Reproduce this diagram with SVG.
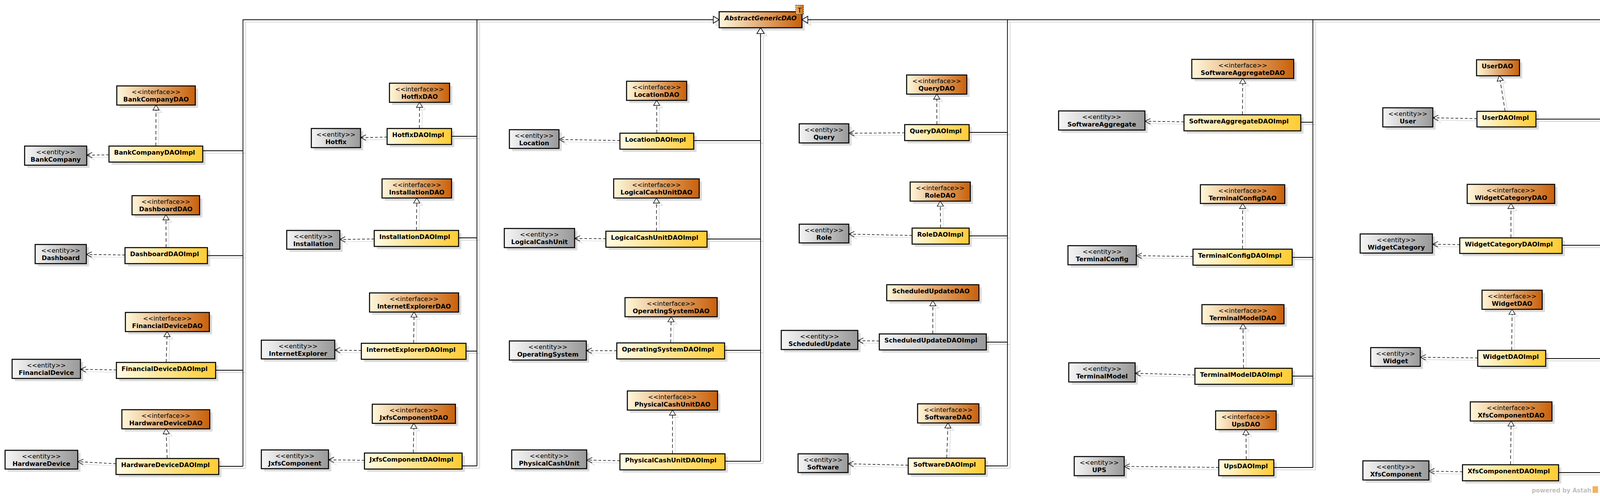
<svg xmlns="http://www.w3.org/2000/svg" xmlns:xlink="http://www.w3.org/1999/xlink" width="4194" height="1270" viewBox="0 0 4194 1270">
<style>
text{font-family:"DejaVu Sans","Liberation Sans",sans-serif;font-size:16px;fill:#000}
.c{text-anchor:middle}
.n{font-weight:bold}
.shd{fill:#dcdcdc}
.b{stroke:#000;stroke-width:2.6}
.gi{fill:url(#gI)}
.gm{fill:url(#gM)}
.ge{fill:url(#gE)}
.gn{fill:none;stroke:var(--c,#000);stroke-width:1.8}
.rl{fill:none;stroke:var(--c,#000);stroke-width:1.4;stroke-dasharray:var(--rd,9 6);marker-end:var(--rm,url(#tri))}
.dp{fill:none;stroke:var(--c,#000);stroke-width:1.4;stroke-dasharray:var(--dd,7 5);marker-end:var(--dm,url(#arr))}
.gt{fill:#fff;stroke:var(--c,#000);stroke-width:1.6}
</style>
<defs>
<linearGradient id="gI" x1="0" y1="0" x2="1" y2="0"><stop offset="0" stop-color="#fff8dc"/><stop offset="1" stop-color="#c8600a"/></linearGradient>
<linearGradient id="gM" x1="0" y1="0" x2="1" y2="0"><stop offset="0" stop-color="#fffbe6"/><stop offset="1" stop-color="#ffcc33"/></linearGradient>
<linearGradient id="gE" x1="0" y1="0" x2="1" y2="0"><stop offset="0" stop-color="#f6f6f6"/><stop offset="1" stop-color="#999"/></linearGradient>
<linearGradient id="gT" x1="0" y1="0" x2="1" y2="0"><stop offset="0" stop-color="#e9b878"/><stop offset="1" stop-color="#c86a14"/></linearGradient>
<marker id="tri" markerUnits="userSpaceOnUse" viewBox="-16 -10 18 20" refX="0" refY="0" markerWidth="18" markerHeight="20" orient="auto" overflow="visible"><path d="M0,0 L-13,-8 L-13,8 Z" fill="#fff" stroke="#000" stroke-width="1.4"/></marker>
<marker id="triS" markerUnits="userSpaceOnUse" viewBox="-16 -10 18 20" refX="0" refY="0" markerWidth="18" markerHeight="20" orient="auto" overflow="visible"><path d="M0,0 L-13,-8 L-13,8 Z" fill="#fff" stroke="#d6d6d6" stroke-width="1.4"/></marker>
<marker id="arr" markerUnits="userSpaceOnUse" viewBox="-16 -10 18 20" refX="0" refY="0" markerWidth="18" markerHeight="20" orient="auto" overflow="visible"><path d="M-14,-7 L0,0 L-14,7" fill="none" stroke="#000" stroke-width="1.4"/></marker>
<marker id="arrS" markerUnits="userSpaceOnUse" viewBox="-16 -10 18 20" refX="0" refY="0" markerWidth="18" markerHeight="20" orient="auto" overflow="visible"><path d="M-14,-7 L0,0 L-14,7" fill="none" stroke="#d6d6d6" stroke-width="1.4"/></marker>
</defs>

<g id="connector-shadows" transform="translate(7,6)" style="--c:#d6d6d6;--rd:none;--dd:none;--rm:url(#triS);--dm:url(#arrS)"><use href="#conn"/></g>

<!-- AbstractGenericDAO -->
<g id="AbstractGenericDAO">
<rect class="shd" x="1848" y="37" width="212" height="41"/>
<rect class="b gi" x="1841" y="30" width="212" height="41"/>
<text class="c n" x="1947" y="52" font-style="italic">AbstractGenericDAO</text>
<rect x="2037" y="13" width="20" height="24" fill="url(#gT)" stroke="#000" stroke-width="1" stroke-dasharray="3 2"/>
<text class="c" x="2047" y="31.5">T</text>
</g>

<!-- Interfaces -->
<g id="BankCompanyDAO" transform="translate(299,220)"><rect class="shd" x="7" y="7" width="201" height="49"/><rect class="b gi" width="201" height="49"/><text class="c" x="100.5" y="21">&lt;&lt;interface&gt;&gt;</text><text class="c n" x="100.5" y="40">BankCompanyDAO</text></g>
<g id="DashboardDAO" transform="translate(338,501)"><rect class="shd" x="7" y="7" width="173" height="49"/><rect class="b gi" width="173" height="49"/><text class="c" x="86.5" y="21">&lt;&lt;interface&gt;&gt;</text><text class="c n" x="86.5" y="40">DashboardDAO</text></g>
<g id="FinancialDeviceDAO" transform="translate(321,800)"><rect class="shd" x="7" y="7" width="215" height="49"/><rect class="b gi" width="215" height="49"/><text class="c" x="107.5" y="21">&lt;&lt;interface&gt;&gt;</text><text class="c n" x="107.5" y="40">FinancialDeviceDAO</text></g>
<g id="HardwareDeviceDAO" transform="translate(312,1049)"><rect class="shd" x="7" y="7" width="225" height="49"/><rect class="b gi" width="225" height="49"/><text class="c" x="112.5" y="21">&lt;&lt;interface&gt;&gt;</text><text class="c n" x="112.5" y="40">HardwareDeviceDAO</text></g>
<g id="HotfixDAO" transform="translate(997,213)"><rect class="shd" x="7" y="7" width="154" height="49"/><rect class="b gi" width="154" height="49"/><text class="c" x="77" y="21">&lt;&lt;interface&gt;&gt;</text><text class="c n" x="77" y="40">HotfixDAO</text></g>
<g id="InstallationDAO" transform="translate(978,458)"><rect class="shd" x="7" y="7" width="178" height="49"/><rect class="b gi" width="178" height="49"/><text class="c" x="89" y="21">&lt;&lt;interface&gt;&gt;</text><text class="c n" x="89" y="40">InstallationDAO</text></g>
<g id="InternetExplorerDAO" transform="translate(946,750)"><rect class="shd" x="7" y="7" width="228" height="49"/><rect class="b gi" width="228" height="49"/><text class="c" x="114" y="21">&lt;&lt;interface&gt;&gt;</text><text class="c n" x="114" y="40">InternetExplorerDAO</text></g>
<g id="JxfsComponentDAO" transform="translate(953,1035)"><rect class="shd" x="7" y="7" width="213" height="49"/><rect class="b gi" width="213" height="49"/><text class="c" x="106.5" y="21">&lt;&lt;interface&gt;&gt;</text><text class="c n" x="106.5" y="40">JxfsComponentDAO</text></g>
<g id="LocationDAO" transform="translate(1604,208)"><rect class="shd" x="7" y="7" width="154" height="49"/><rect class="b gi" width="154" height="49"/><text class="c" x="77" y="21">&lt;&lt;interface&gt;&gt;</text><text class="c n" x="77" y="40">LocationDAO</text></g>
<g id="LogicalCashUnitDAO" transform="translate(1571,458)"><rect class="shd" x="7" y="7" width="219" height="49"/><rect class="b gi" width="219" height="49"/><text class="c" x="109.5" y="21">&lt;&lt;interface&gt;&gt;</text><text class="c n" x="109.5" y="40">LogicalCashUnitDAO</text></g>
<g id="OperatingSystemDAO" transform="translate(1600,762)"><rect class="shd" x="7" y="7" width="236" height="49"/><rect class="b gi" width="236" height="49"/><text class="c" x="118" y="21">&lt;&lt;interface&gt;&gt;</text><text class="c n" x="118" y="40">OperatingSystemDAO</text></g>
<g id="PhysicalCashUnitDAO" transform="translate(1606,1001)"><rect class="shd" x="7" y="7" width="231" height="49"/><rect class="b gi" width="231" height="49"/><text class="c" x="115.5" y="21">&lt;&lt;interface&gt;&gt;</text><text class="c n" x="115.5" y="40">PhysicalCashUnitDAO</text></g>
<g id="QueryDAO" transform="translate(2321,192)"><rect class="shd" x="7" y="7" width="154" height="49"/><rect class="b gi" width="154" height="49"/><text class="c" x="77" y="21">&lt;&lt;interface&gt;&gt;</text><text class="c n" x="77" y="40">QueryDAO</text></g>
<g id="RoleDAO" transform="translate(2330,466)"><rect class="shd" x="7" y="7" width="154" height="49"/><rect class="b gi" width="154" height="49"/><text class="c" x="77" y="21">&lt;&lt;interface&gt;&gt;</text><text class="c n" x="77" y="40">RoleDAO</text></g>
<g id="ScheduledUpdateDAO" transform="translate(2270,729)"><rect class="shd" x="7" y="7" width="236" height="41"/><rect class="b gi" width="236" height="41"/><text class="n" x="14" y="22">ScheduledUpdateDAO</text></g>
<g id="SoftwareDAO" transform="translate(2349,1034)"><rect class="shd" x="7" y="7" width="157" height="49"/><rect class="b gi" width="157" height="49"/><text class="c" x="78.5" y="21">&lt;&lt;interface&gt;&gt;</text><text class="c n" x="78.5" y="40">SoftwareDAO</text></g>
<g id="SoftwareAggregateDAO" transform="translate(3051,152)"><rect class="shd" x="7" y="7" width="261" height="49"/><rect class="b gi" width="261" height="49"/><text class="c" x="130.5" y="21">&lt;&lt;interface&gt;&gt;</text><text class="c n" x="130.5" y="40">SoftwareAggregateDAO</text></g>
<g id="TerminalConfigDAO" transform="translate(3073,473)"><rect class="shd" x="7" y="7" width="216" height="48"/><rect class="b gi" width="216" height="48"/><text class="c" x="108" y="21">&lt;&lt;interface&gt;&gt;</text><text class="c n" x="108" y="40">TerminalConfigDAO</text></g>
<g id="TerminalModelDAO" transform="translate(3077,780)"><rect class="shd" x="7" y="7" width="210" height="49"/><rect class="b gi" width="210" height="49"/><text class="c" x="105" y="21">&lt;&lt;interface&gt;&gt;</text><text class="c n" x="105" y="40">TerminalModelDAO</text></g>
<g id="UpsDAO" transform="translate(3112,1052)"><rect class="shd" x="7" y="7" width="155" height="48"/><rect class="b gi" width="155" height="48"/><text class="c" x="77.5" y="21">&lt;&lt;interface&gt;&gt;</text><text class="c n" x="77.5" y="40">UpsDAO</text></g>
<g id="UserDAO" transform="translate(3780,153)"><rect class="shd" x="7" y="7" width="110" height="41"/><rect class="b gi" width="110" height="41"/><text class="n" x="13" y="22">UserDAO</text></g>
<g id="WidgetCategoryDAO" transform="translate(3756,472)"><rect class="shd" x="7" y="7" width="224" height="49"/><rect class="b gi" width="224" height="49"/><text class="c" x="112" y="21">&lt;&lt;interface&gt;&gt;</text><text class="c n" x="112" y="40">WidgetCategoryDAO</text></g>
<g id="WidgetDAO" transform="translate(3794,743)"><rect class="shd" x="7" y="7" width="154" height="49"/><rect class="b gi" width="154" height="49"/><text class="c" x="77" y="21">&lt;&lt;interface&gt;&gt;</text><text class="c n" x="77" y="40">WidgetDAO</text></g>
<g id="XfsComponentDAO" transform="translate(3764,1029)"><rect class="shd" x="7" y="7" width="209" height="49"/><rect class="b gi" width="209" height="49"/><text class="c" x="104.5" y="21">&lt;&lt;interface&gt;&gt;</text><text class="c n" x="104.5" y="40">XfsComponentDAO</text></g>

<!-- Implementations -->
<g id="BankCompanyDAOImpl" transform="translate(279,374)"><rect class="shd" x="7" y="7" width="240" height="41"/><rect class="b gm" width="240" height="41"/><text class="n" x="13" y="22">BankCompanyDAOImpl</text></g>
<g id="DashboardDAOImpl" transform="translate(320,634)"><rect class="shd" x="7" y="7" width="211" height="41"/><rect class="b gm" width="211" height="41"/><text class="n" x="13" y="22">DashboardDAOImpl</text></g>
<g id="FinancialDeviceDAOImpl" transform="translate(298,928)"><rect class="shd" x="7" y="7" width="254" height="41"/><rect class="b gm" width="254" height="41"/><text class="n" x="13" y="22">FinancialDeviceDAOImpl</text></g>
<g id="HardwareDeviceDAOImpl" transform="translate(297,1174)"><rect class="shd" x="7" y="7" width="263" height="41"/><rect class="b gm" width="263" height="41"/><text class="n" x="13" y="22">HardwareDeviceDAOImpl</text></g>
<g id="HotfixDAOImpl" transform="translate(991,329)"><rect class="shd" x="7" y="7" width="165" height="41"/><rect class="b gm" width="165" height="41"/><text class="n" x="13" y="22">HotfixDAOImpl</text></g>
<g id="InstallationDAOImpl" transform="translate(958,590)"><rect class="shd" x="7" y="7" width="216" height="41"/><rect class="b gm" width="216" height="41"/><text class="n" x="13" y="22">InstallationDAOImpl</text></g>
<g id="InternetExplorerDAOImpl" transform="translate(925,879)"><rect class="shd" x="7" y="7" width="268" height="41"/><rect class="b gm" width="268" height="41"/><text class="n" x="13" y="22">InternetExplorerDAOImpl</text></g>
<g id="JxfsComponentDAOImpl" transform="translate(933,1160)"><rect class="shd" x="7" y="7" width="250" height="41"/><rect class="b gm" width="250" height="41"/><text class="n" x="13" y="22">JxfsComponentDAOImpl</text></g>
<g id="LocationDAOImpl" transform="translate(1587,341)"><rect class="shd" x="7" y="7" width="189" height="41"/><rect class="b gm" width="189" height="41"/><text class="n" x="13" y="22">LocationDAOImpl</text></g>
<g id="LogicalCashUnitDAOImpl" transform="translate(1551,592)"><rect class="shd" x="7" y="7" width="259" height="41"/><rect class="b gm" width="259" height="41"/><text class="n" x="13" y="22">LogicalCashUnitDAOImpl</text></g>
<g id="OperatingSystemDAOImpl" transform="translate(1579,878)"><rect class="shd" x="7" y="7" width="276" height="41"/><rect class="b gm" width="276" height="41"/><text class="n" x="13" y="22">OperatingSystemDAOImpl</text></g>
<g id="PhysicalCashUnitDAOImpl" transform="translate(1587,1162)"><rect class="shd" x="7" y="7" width="269" height="41"/><rect class="b gm" width="269" height="41"/><text class="n" x="13" y="22">PhysicalCashUnitDAOImpl</text></g>
<g id="QueryDAOImpl" transform="translate(2316,319)"><rect class="shd" x="7" y="7" width="165" height="41"/><rect class="b gm" width="165" height="41"/><text class="n" x="13" y="22">QueryDAOImpl</text></g>
<g id="RoleDAOImpl" transform="translate(2335,584)"><rect class="shd" x="7" y="7" width="146" height="41"/><rect class="b gm" width="146" height="41"/><text class="n" x="13" y="22">RoleDAOImpl</text></g>
<g id="ScheduledUpdateDAOImpl" transform="translate(2251,855)"><rect class="shd" x="7" y="7" width="274" height="41"/><rect class="b ge" width="274" height="41"/><text class="n" x="13" y="22">ScheduledUpdateDAOImpl</text></g>
<g id="SoftwareDAOImpl" transform="translate(2325,1173)"><rect class="shd" x="7" y="7" width="197" height="41"/><rect class="b gm" width="197" height="41"/><text class="n" x="13" y="22">SoftwareDAOImpl</text></g>
<g id="SoftwareAggregateDAOImpl" transform="translate(3031,294)"><rect class="shd" x="7" y="7" width="299" height="41"/><rect class="b gm" width="299" height="41"/><text class="n" x="13" y="22">SoftwareAggregateDAOImpl</text></g>
<g id="TerminalConfigDAOImpl" transform="translate(3054,638)"><rect class="shd" x="7" y="7" width="254" height="41"/><rect class="b gm" width="254" height="41"/><text class="n" x="13" y="22">TerminalConfigDAOImpl</text></g>
<g id="TerminalModelDAOImpl" transform="translate(3059,943)"><rect class="shd" x="7" y="7" width="249" height="41"/><rect class="b gm" width="249" height="41"/><text class="n" x="13" y="22">TerminalModelDAOImpl</text></g>
<g id="UpsDAOImpl" transform="translate(3120,1177)"><rect class="shd" x="7" y="7" width="141" height="41"/><rect class="b gm" width="141" height="41"/><text class="n" x="13" y="22">UpsDAOImpl</text></g>
<g id="UserDAOImpl" transform="translate(3781,285)"><rect class="shd" x="7" y="7" width="151" height="40"/><rect class="b gm" width="151" height="40"/><text class="n" x="13" y="22">UserDAOImpl</text></g>
<g id="WidgetCategoryDAOImpl" transform="translate(3737,609)"><rect class="shd" x="7" y="7" width="262" height="40"/><rect class="b gm" width="262" height="40"/><text class="n" x="13" y="22">WidgetCategoryDAOImpl</text></g>
<g id="WidgetDAOImpl" transform="translate(3783,897)"><rect class="shd" x="7" y="7" width="174" height="41"/><rect class="b gm" width="174" height="41"/><text class="n" x="13" y="22">WidgetDAOImpl</text></g>
<g id="XfsComponentDAOImpl" transform="translate(3744,1190)"><rect class="shd" x="7" y="7" width="246" height="41"/><rect class="b gm" width="246" height="41"/><text class="n" x="13" y="22">XfsComponentDAOImpl</text></g>

<!-- Entities -->
<g id="BankCompany" transform="translate(63,374)"><rect class="shd" x="7" y="7" width="159" height="49"/><rect class="b ge" width="159" height="49"/><text class="c" x="79.5" y="21">&lt;&lt;entity&gt;&gt;</text><text class="c n" x="79.5" y="40">BankCompany</text></g>
<g id="Dashboard" transform="translate(90,626)"><rect class="shd" x="7" y="7" width="131" height="49"/><rect class="b ge" width="131" height="49"/><text class="c" x="65.5" y="21">&lt;&lt;entity&gt;&gt;</text><text class="c n" x="65.5" y="40">Dashboard</text></g>
<g id="FinancialDevice" transform="translate(31,920)"><rect class="shd" x="7" y="7" width="175" height="49"/><rect class="b ge" width="175" height="49"/><text class="c" x="87.5" y="21">&lt;&lt;entity&gt;&gt;</text><text class="c n" x="87.5" y="40">FinancialDevice</text></g>
<g id="HardwareDevice" transform="translate(13,1153)"><rect class="shd" x="7" y="7" width="186" height="48"/><rect class="b ge" width="186" height="48"/><text class="c" x="93" y="21">&lt;&lt;entity&gt;&gt;</text><text class="c n" x="93" y="40">HardwareDevice</text></g>
<g id="Hotfix" transform="translate(797,329)"><rect class="shd" x="7" y="7" width="126" height="49"/><rect class="b ge" width="126" height="49"/><text class="c" x="63" y="21">&lt;&lt;entity&gt;&gt;</text><text class="c n" x="63" y="40">Hotfix</text></g>
<g id="Installation" transform="translate(734,590)"><rect class="shd" x="7" y="7" width="136" height="48"/><rect class="b ge" width="136" height="48"/><text class="c" x="68" y="21">&lt;&lt;entity&gt;&gt;</text><text class="c n" x="68" y="40">Installation</text></g>
<g id="InternetExplorer" transform="translate(669,871)"><rect class="shd" x="7" y="7" width="188" height="48"/><rect class="b ge" width="188" height="48"/><text class="c" x="94" y="21">&lt;&lt;entity&gt;&gt;</text><text class="c n" x="94" y="40">InternetExplorer</text></g>
<g id="JxfsComponent" transform="translate(669,1152)"><rect class="shd" x="7" y="7" width="172" height="48"/><rect class="b ge" width="172" height="48"/><text class="c" x="86" y="21">&lt;&lt;entity&gt;&gt;</text><text class="c n" x="86" y="40">JxfsComponent</text></g>
<g id="Location" transform="translate(1304,332)"><rect class="shd" x="7" y="7" width="127" height="48"/><rect class="b ge" width="127" height="48"/><text class="c" x="63.5" y="21">&lt;&lt;entity&gt;&gt;</text><text class="c n" x="63.5" y="40">Location</text></g>
<g id="LogicalCashUnit" transform="translate(1291,585)"><rect class="shd" x="7" y="7" width="180" height="49"/><rect class="b ge" width="180" height="49"/><text class="c" x="90" y="21">&lt;&lt;entity&gt;&gt;</text><text class="c n" x="90" y="40">LogicalCashUnit</text></g>
<g id="OperatingSystem" transform="translate(1304,873)"><rect class="shd" x="7" y="7" width="197" height="49"/><rect class="b ge" width="197" height="49"/><text class="c" x="98.5" y="21">&lt;&lt;entity&gt;&gt;</text><text class="c n" x="98.5" y="40">OperatingSystem</text></g>
<g id="PhysicalCashUnit" transform="translate(1310,1152)"><rect class="shd" x="7" y="7" width="192" height="48"/><rect class="b ge" width="192" height="48"/><text class="c" x="96" y="21">&lt;&lt;entity&gt;&gt;</text><text class="c n" x="96" y="40">PhysicalCashUnit</text></g>
<g id="Query" transform="translate(2046,317)"><rect class="shd" x="7" y="7" width="127" height="49"/><rect class="b ge" width="127" height="49"/><text class="c" x="63.5" y="21">&lt;&lt;entity&gt;&gt;</text><text class="c n" x="63.5" y="40">Query</text></g>
<g id="Role" transform="translate(2046,574)"><rect class="shd" x="7" y="7" width="127" height="48"/><rect class="b ge" width="127" height="48"/><text class="c" x="63.5" y="21">&lt;&lt;entity&gt;&gt;</text><text class="c n" x="63.5" y="40">Role</text></g>
<g id="ScheduledUpdate" transform="translate(2000,846)"><rect class="shd" x="7" y="7" width="196" height="49"/><rect class="b ge" width="196" height="49"/><text class="c" x="98" y="21">&lt;&lt;entity&gt;&gt;</text><text class="c n" x="98" y="40">ScheduledUpdate</text></g>
<g id="Software" transform="translate(2043,1162)"><rect class="shd" x="7" y="7" width="128" height="48"/><rect class="b ge" width="128" height="48"/><text class="c" x="64" y="21">&lt;&lt;entity&gt;&gt;</text><text class="c n" x="64" y="40">Software</text></g>
<g id="SoftwareAggregate" transform="translate(2710,284)"><rect class="shd" x="7" y="7" width="221" height="49"/><rect class="b ge" width="221" height="49"/><text class="c" x="110.5" y="21">&lt;&lt;entity&gt;&gt;</text><text class="c n" x="110.5" y="40">SoftwareAggregate</text></g>
<g id="TerminalConfig" transform="translate(2734,629)"><rect class="shd" x="7" y="7" width="175" height="49"/><rect class="b ge" width="175" height="49"/><text class="c" x="87.5" y="21">&lt;&lt;entity&gt;&gt;</text><text class="c n" x="87.5" y="40">TerminalConfig</text></g>
<g id="TerminalModel" transform="translate(2736,929)"><rect class="shd" x="7" y="7" width="170" height="49"/><rect class="b ge" width="170" height="49"/><text class="c" x="85" y="21">&lt;&lt;entity&gt;&gt;</text><text class="c n" x="85" y="40">TerminalModel</text></g>
<g id="UPS" transform="translate(2750,1169)"><rect class="shd" x="7" y="7" width="128" height="49"/><rect class="b ge" width="128" height="49"/><text class="c" x="64" y="21">&lt;&lt;entity&gt;&gt;</text><text class="c n" x="64" y="40">UPS</text></g>
<g id="User" transform="translate(3540,276)"><rect class="shd" x="7" y="7" width="128" height="49"/><rect class="b ge" width="128" height="49"/><text class="c" x="64" y="21">&lt;&lt;entity&gt;&gt;</text><text class="c n" x="64" y="40">User</text></g>
<g id="WidgetCategory" transform="translate(3482,599)"><rect class="shd" x="7" y="7" width="185" height="49"/><rect class="b ge" width="185" height="49"/><text class="c" x="92.5" y="21">&lt;&lt;entity&gt;&gt;</text><text class="c n" x="92.5" y="40">WidgetCategory</text></g>
<g id="Widget" transform="translate(3509,890)"><rect class="shd" x="7" y="7" width="127" height="48"/><rect class="b ge" width="127" height="48"/><text class="c" x="63.5" y="21">&lt;&lt;entity&gt;&gt;</text><text class="c n" x="63.5" y="40">Widget</text></g>
<g id="XfsComponent" transform="translate(3489,1180)"><rect class="shd" x="7" y="7" width="169" height="49"/><rect class="b ge" width="169" height="49"/><text class="c" x="84.5" y="21">&lt;&lt;entity&gt;&gt;</text><text class="c n" x="84.5" y="40">XfsComponent</text></g>

<!-- Connectors -->
<g id="connectors"><g id="conn">
<path class="gn" d="M622,1194 V50.5 H1826 M1221,1193 V50.5 M519,386 H622 M531,654.5 H622 M552,948 H622 M560,1194 H622 M1156,349 H1221 M1174,609 H1221 M1193,899 H1221 M1183,1193 H1221"/>
<path class="gn" d="M1947,1181 V86 M1776,360 H1947 M1810,612 H1947 M1855,897 H1947 M1856,1181 H1947"/>
<path class="gn" d="M4181,1210 V50.5 H2068 M2579,1193 V50.5 M3361,1197 V50.5 M2481,339 H2579 M2481,604 H2579 M2525,876 H2579 M2522,1193 H2579 M3330,313 H3361 M3308,659 H3361 M3308,963 H3361 M3261,1197 H3361 M3932,305 H4181 M3999,628 H4181 M3957,918 H4181 M3990,1210 H4181"/>
<polygon class="gt" points="1841,50.5 1826,41.5 1826,59.5"/>
<polygon class="gt" points="2053,50.5 2068,41.5 2068,59.5"/>
<polygon class="gt" points="1947,71 1937.5,86 1956.5,86"/>
<path class="rl" d="M399,374 L399.5,269"/>
<path class="rl" d="M425.3,634 L424.8,550"/>
<path class="rl" d="M425.4,928 L427.9,849"/>
<path class="rl" d="M428,1174 L425,1098"/>
<path class="rl" d="M1073.5,329 L1074,262"/>
<path class="rl" d="M1066,590 L1067,507"/>
<path class="rl" d="M1059,879 L1060,799"/>
<path class="rl" d="M1058,1160 L1059.5,1084"/>
<path class="rl" d="M1681.5,341 L1681,257"/>
<path class="rl" d="M1680.5,592 L1680.6,507"/>
<path class="rl" d="M1717,878 L1718,811"/>
<path class="rl" d="M1721.5,1162 L1721.6,1050"/>
<path class="rl" d="M2398.5,319 L2398,241"/>
<path class="rl" d="M2408,584 L2407,515"/>
<path class="rl" d="M2388,855 L2388.1,770"/>
<path class="rl" d="M2423.5,1173 L2427,1083"/>
<path class="rl" d="M3180.5,294 L3181.5,201"/>
<path class="rl" d="M3181,638 L3181.1,521"/>
<path class="rl" d="M3183.5,943 L3182,829"/>
<path class="rl" d="M3190.5,1177 L3189.5,1100"/>
<path class="rl" d="M3853.2,285 L3838.4,194"/>
<path class="rl" d="M3868,609 L3868.1,521"/>
<path class="rl" d="M3870,897 L3871,792"/>
<path class="rl" d="M3867,1190 L3868.5,1078"/>
<path class="dp" d="M279,396.4 L222,397.3"/>
<path class="dp" d="M320,652.9 L221,651.5"/>
<path class="dp" d="M298,947.2 L206,945.6"/>
<path class="dp" d="M297,1187.4 L199,1182"/>
<path class="dp" d="M991,351 L923,352.3"/>
<path class="dp" d="M958,611.9 L870,613.1"/>
<path class="dp" d="M925,897.5 L857,896.4"/>
<path class="dp" d="M933,1178.6 L841,1177.3"/>
<path class="dp" d="M1587,359.8 L1431,357.1"/>
<path class="dp" d="M1551,611.2 L1471,610.4"/>
<path class="dp" d="M1579,898.1 L1501,897.8"/>
<path class="dp" d="M1587,1179.7 L1502,1178"/>
<path class="dp" d="M2316,340.1 L2173,341.1"/>
<path class="dp" d="M2335,602.9 L2173,599.4"/>
<path class="dp" d="M2251,873.1 L2196,872.2"/>
<path class="dp" d="M2325,1191.2 L2171,1187.5"/>
<path class="dp" d="M3031,312 L2931,310.3"/>
<path class="dp" d="M3054,656.7 L2909,654.7"/>
<path class="dp" d="M3059,960.1 L2906,955.8"/>
<path class="dp" d="M3120,1196.8 L2878,1194.2"/>
<path class="dp" d="M3781,303.7 L3668,301.6"/>
<path class="dp" d="M3737,626.5 L3667,625.2"/>
<path class="dp" d="M3783,916.5 L3636,914.7"/>
<path class="dp" d="M3744,1208 L3658,1206.2"/>
</g></g>

<g id="footer">
<text x="4074" y="1261" text-anchor="end" style="font-size:15px;font-weight:bold;fill:#c0c0c0">powered by Astah</text>
<rect x="4077" y="1245" width="14" height="17" fill="#f2b35c"/>
</g>
</svg>
